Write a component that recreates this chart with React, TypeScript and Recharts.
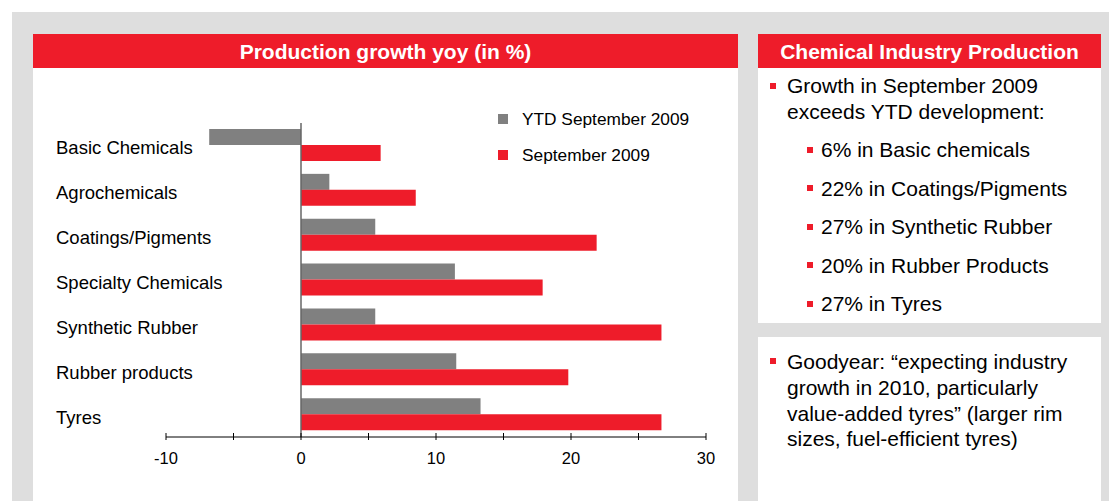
import React from 'react';
import { BarChart, Bar, XAxis, YAxis, ReferenceLine, Legend } from 'recharts';

const categories = [
  'Basic Chemicals',
  'Agrochemicals',
  'Coatings/Pigments',
  'Specialty Chemicals',
  'Synthetic Rubber',
  'Rubber products',
  'Tyres',
];
const ytdSep2009 = [-6.8, 2.1, 5.5, 11.4, 5.5, 11.5, 13.3];
const sep2009 = [5.9, 8.5, 21.9, 17.9, 26.7, 19.8, 26.7];
const xTicks = [-10, -5, 0, 5, 10, 15, 20, 25, 30];
const seriesNames = ['YTD September 2009', 'September 2009'];

const FONT = '"Liberation Sans", Arial, Helvetica, sans-serif';
const RED = '#EE1C2A';
const GRAY = '#808080';
const BG = '#DEDEDE';

const data = categories.map((name, i) => ({ name, ytd: ytdSep2009[i], sep: sep2009[i] }));

const YTick = (props: any) => {
  const { y, payload } = props;
  return (
    <text x={23} y={y + 2.5} textAnchor="start" dominantBaseline="central" fontSize={18.5} fontFamily={FONT} fill="#000">
      {payload.value}
    </text>
  );
};

const XTick = (props: any) => {
  const { x, y, payload } = props;
  const v = payload.value;
  return (
    <g>
      <line x1={x} x2={x} y1={y - 4} y2={y + 3} stroke="#000" strokeWidth={1} />
      {v % 10 === 0 && (
        <text x={x} y={y + 21} textAnchor="middle" dominantBaseline="central" fontSize={16.5} fontFamily={FONT} fill="#000">
          {v}
        </text>
      )}
    </g>
  );
};

const LegendContent = (props: any) => {
  const { payload } = props;
  const items = [...(payload || [])].sort(
    (a: any, b: any) => seriesNames.indexOf(a.value) - seriesNames.indexOf(b.value)
  );
  return (
    <div style={{ fontFamily: FONT }}>
      {items.map((p: any, i: number) => (
        <div key={i} style={{ height: 36, display: 'flex', alignItems: 'center' }}>
          <div style={{ width: 10, height: 10, background: p.color }} />
          <span style={{ marginLeft: 14, fontSize: 17.3, color: '#000' }}>{p.value}</span>
        </div>
      ))}
    </div>
  );
};

const Square = ({ top, left }: { top: number; left: number }) => (
  <div style={{ position: 'absolute', top, left, width: 6, height: 6, background: RED }} />
);

const subItems = [
  '6% in Basic chemicals',
  '22% in Coatings/Pigments',
  '27% in Synthetic Rubber',
  '20% in Rubber Products',
  '27% in Tyres',
];

export default function App() {
  const subLH = 38.5;
  const subTop = 131.2;
  return (
    <div style={{ position: 'fixed', left: 0, top: 0, width: 1109, height: 501, background: '#fff', overflow: 'hidden', fontFamily: FONT }}>
      <div style={{ position: 'absolute', left: 12, top: 12, width: 1097, height: 489, background: BG }} />

      {/* Left panel */}
      <div style={{ position: 'absolute', left: 33, top: 34, width: 705, height: 467, background: '#fff' }} />
      <div style={{ position: 'absolute', left: 33, top: 34, width: 705, height: 34, background: RED, color: '#fff', fontWeight: 'bold', fontSize: 21, lineHeight: '34px', textAlign: 'center', paddingTop: 1, boxSizing: 'border-box' }}>
        Production growth yoy (in %)
      </div>
      <div style={{ position: 'absolute', left: 33, top: 68 }}>
        <BarChart
          width={705}
          height={433}
          data={data}
          layout="vertical"
          margin={{ top: 55, right: 32, left: 0, bottom: 0 }}
          barGap={0}
          barSize={16}
        >
          <XAxis
            type="number"
            domain={[-10, 30]}
            ticks={xTicks}
            allowDataOverflow
            axisLine={{ stroke: '#000', strokeWidth: 1 }}
            tickLine={false}
            tickSize={0}
            tickMargin={0}
            height={64}
            tick={<XTick />}
            interval={0}
          />
          <YAxis
            type="category"
            dataKey="name"
            width={133}
            axisLine={false}
            tickLine={false}
            tick={<YTick />}
            interval={0}
          />
          <Legend
            layout="horizontal"
            verticalAlign="middle"
            align="center"
            content={<LegendContent />}
            wrapperStyle={{ position: 'absolute', left: 465, top: 33, width: 240, height: 72 }}
          />
          <Bar dataKey="ytd" name={seriesNames[0]} fill={GRAY} isAnimationActive={false} />
          <Bar dataKey="sep" name={seriesNames[1]} fill={RED} isAnimationActive={false} />
          <ReferenceLine x={0} stroke="#666" strokeWidth={1.5} />
        </BarChart>
      </div>

      {/* Right top panel */}
      <div style={{ position: 'absolute', left: 758, top: 34, width: 343, height: 289, background: '#fff' }} />
      <div style={{ position: 'absolute', left: 758, top: 34, width: 343, height: 34, background: RED, color: '#fff', fontWeight: 'bold', fontSize: 21, lineHeight: '34px', textAlign: 'center', paddingTop: 1, boxSizing: 'border-box', whiteSpace: 'nowrap' }}>
        Chemical Industry Production
      </div>
      <Square left={770} top={82.7} />
      <div style={{ position: 'absolute', left: 787, top: 73, fontSize: 21, lineHeight: '26px', color: '#000', whiteSpace: 'nowrap' }}>
        Growth in September 2009<br />exceeds YTD development:
      </div>
      {subItems.map((t, i) => (
        <React.Fragment key={i}>
          <Square left={807} top={subTop + i * subLH + 15.5} />
          <div style={{ position: 'absolute', left: 821, top: subTop + i * subLH, fontSize: 21, lineHeight: subLH + 'px', color: '#000', whiteSpace: 'nowrap' }}>
            {t}
          </div>
        </React.Fragment>
      ))}

      {/* Right bottom panel */}
      <div style={{ position: 'absolute', left: 758, top: 337, width: 343, height: 164, background: '#fff' }} />
      <Square left={770} top={358.3} />
      <div style={{ position: 'absolute', left: 787, top: 349.2, fontSize: 21, lineHeight: '25.7px', color: '#000', whiteSpace: 'nowrap' }}>
        Goodyear: “expecting industry<br />growth in 2010, particularly<br />value-added tyres” (larger rim<br />sizes, fuel-efficient tyres)
      </div>
    </div>
  );
}
